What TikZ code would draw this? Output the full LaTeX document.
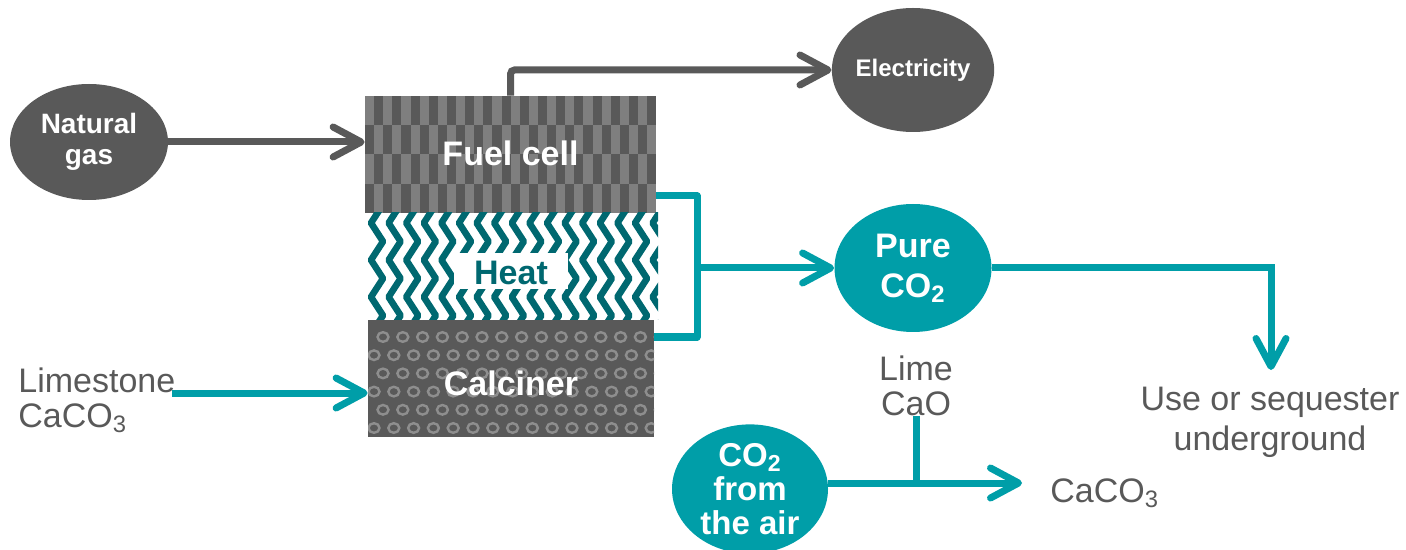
\documentclass[tikz,border=0pt]{standalone}
\usepackage{fontspec}
\setmainfont{Liberation Sans}
\usetikzlibrary{shapes.geometric,arrows.meta}
\definecolor{dkgray}{HTML}{595959}
\definecolor{ltgray}{HTML}{7F7F7F}
\definecolor{tealc}{RGB}{0,158,168}
\definecolor{heatc}{RGB}{0,104,112}
\definecolor{ringc}{HTML}{8E8E8E}
\definecolor{txtc}{HTML}{595959}
\begin{document}
\begin{tikzpicture}[x=0.5pt,y=-0.5pt,
  tipA/.style={-{Straight Barb[length=14pt,width=15pt,round]}},
  gline/.style={draw=dkgray,line width=3.5pt},
  tline/.style={draw=tealc,line width=3.5pt},
  ball/.style={ellipse,inner sep=0pt,text=white,align=center},
  gball/.style={ball,fill=dkgray},
  tball/.style={ball,fill=tealc},
  boxlbl/.style={inner sep=0pt,text=white,font=\bfseries\fontsize{17}{20}\selectfont},
  txt/.style={inner sep=0pt,text=txtc,font=\fontsize{17}{17.5}\selectfont},
  zig/.style={draw=heatc,line width=3.3pt,line join=round},
  ring/.style={draw=ringc,line width=1.2pt}]
\useasboundingbox (0,0) rectangle (1406,550);
% ---- fuel cell pattern
\fill[dkgray] (365,96) rectangle (656,213);
\begin{scope}
\clip (365,96) rectangle (656,213);
\foreach \r in {0,...,3}{\foreach \c in {0,...,31}{%
  \pgfmathtruncatemacro{\p}{mod(\r+\c,2)}%
  \ifnum\p=0 \fill[ltgray] ({365+\c*9.1},{96+\r*29.25}) rectangle ++(9.1,29.25);\fi}}
\end{scope}
% ---- heat zigzags
\begin{scope}
\clip (363,213) rectangle (658,320);
\foreach \c in {0,...,16}{%
  \pgfmathsetmacro{\xa}{383+\c*17.6}\pgfmathsetmacro{\xb}{\xa-12}%
  \draw[zig] (\xb,186) -- (\xa,204.5) -- (\xb,223) -- (\xa,241.5) -- (\xb,260) -- (\xa,278.5) -- (\xb,297) -- (\xa,315.5) -- (\xb,334);}
\end{scope}
% ---- calciner pattern
\fill[dkgray] (368,320) rectangle (654,437);
\begin{scope}
\clip (368,320) rectangle (654,437);
\foreach \r in {0,...,5}{\foreach \c in {0,...,14}{%
  \pgfmathsetmacro{\cx}{ifthenelse(mod(\r,2)==0,383,374)+\c*19.8}%
  \pgfmathsetmacro{\cy}{337+\r*18.2}%
  \draw[ring] (\cx,\cy) ellipse [x radius=5.5,y radius=4.8];}}
\end{scope}
% ---- nodes
\node[boxlbl,minimum width=145.5pt,minimum height=58.5pt,text height=11.5pt,text depth=0pt] (fc) at (510.5,154.5) {Fuel cell};
\node[boxlbl,minimum width=143pt,minimum height=58.5pt,text height=16.5pt,text depth=0pt] (cal) at (511,378.5) {Calciner};
\node[boxlbl,fill=white,text=heatc,minimum width=57pt,minimum height=18pt,text height=14pt,text depth=0pt] (heat) at (511,271) {Heat};
\node[gball,minimum width=79pt,minimum height=58pt,font=\bfseries\fontsize{14}{15.5}\selectfont] (ng) at (89,142) {Natural\\gas};
\node[gball,minimum width=78.5pt,minimum height=62pt,font=\bfseries\fontsize{12}{14}\selectfont] (el) at (913,70) {Electricity};
\node[tball,minimum width=78.5pt,minimum height=64pt,font=\bfseries\fontsize{17}{20}\selectfont] (pc) at (913,268) {Pure\\CO\textsubscript{2}};
\node[tball,minimum width=78pt,minimum height=63pt,font=\bfseries\fontsize{16.5}{17}\selectfont] (air) at (750,489) {CO\textsubscript{2}\\from\\the air};
\node[txt,align=left,anchor=north west] (ls) at (18,367) {Limestone\\CaCO\textsubscript{3}};
\node[txt,align=center,anchor=north] (lime) at (916,355) {Lime\\CaO};
\node[txt,align=center,anchor=north,font=\fontsize{17}{20}\selectfont] (use) at (1270,387) {Use or sequester\\underground};
\node[txt,anchor=base west] (cc) at (1050,502) {CaCO\textsubscript{3}};
% ---- connectors
\coordinate (jt) at (697,196);
\coordinate (jb) at (697,337);
\coordinate (ut) at (1271,370);
\coordinate (lsa) at (172,393);
\coordinate (ct) at (1022,483);
\draw[gline,tipA] (ng.east) -- (ng.east -| fc.west);
\draw[gline,tipA,rounded corners=2pt] (fc.north) |- (el.west);
\draw[tline,line join=round] (fc.east |- jt) -- (jt) -- (jb) -- (cal.east |- jb);
\draw[tline,tipA] (jt |- pc.west) -- (pc.west);
\draw[tline,tipA] (pc.east) -| (ut);
\draw[tline,tipA] (lsa) -- (lsa -| cal.west);
\draw[tline,tipA] (air.east |- ct) -- (ct);
\draw[tline] (lime.south) -- (lime.south |- ct);
\end{tikzpicture}
\end{document}
